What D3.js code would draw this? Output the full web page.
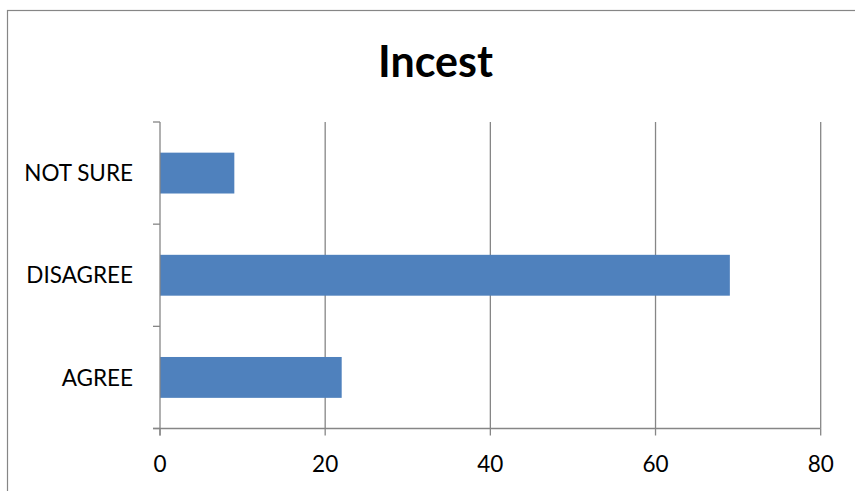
<!DOCTYPE html>
<html>
<head>
<meta charset="utf-8">
<script src="https://cdn.jsdelivr.net/npm/d3@7"></script>
<style>
  html, body { margin: 0; padding: 0; background: #fff; }
  svg { display: block; }
</style>
</head>
<body>
<svg id="chart" width="855" height="491"></svg>
<script>
const title = "Incest";
const categories = ["AGREE", "DISAGREE", "NOT SURE"];
const values = [22, 69, 9];
const xTicks = [0, 20, 40, 60, 80];

(function () {
const W = 855, H = 491;
const margin = { left: 160, right: 855 - 820.7, top: 122, bottom: 491 - 428.5 };
const svg = d3.select("#chart");
const FONT = "Lato, 'Open Sans', sans-serif";
const GRID = "#868686";

// outer frame
svg.append("rect")
  .attr("x", 7.5).attr("y", 10.5)
  .attr("width", 900).attr("height", 600)
  .attr("fill", "none").attr("stroke", GRID).attr("stroke-width", 1.2);

// title
svg.append("text")
  .attr("x", 435.5).attr("y", 77)
  .attr("text-anchor", "middle")
  .attr("font-family", FONT).attr("font-weight", "bold")
  .attr("font-size", 43).attr("fill", "#000")
  .text(title);

const x = d3.scaleLinear().domain([0, 80]).range([margin.left, W - margin.right]);
const y = d3.scaleBand().domain(categories)
  .range([H - margin.bottom, margin.top])
  .paddingInner(0.6).paddingOuter(0.3);

const plotTop = margin.top, plotBottom = H - margin.bottom;

// vertical gridlines
svg.append("g").selectAll("line").data(xTicks.filter(d => d !== 0)).join("line")
  .attr("x1", d => x(d)).attr("x2", d => x(d))
  .attr("y1", plotTop).attr("y2", plotBottom)
  .attr("stroke", GRID).attr("stroke-width", 1.3);

// bars
svg.append("g").selectAll("rect").data(categories).join("rect")
  .attr("x", x(0))
  .attr("y", d => y(d))
  .attr("width", (d, i) => x(values[i]) - x(0))
  .attr("height", y.bandwidth())
  .attr("fill", "#4F81BD");

// y axis line
svg.append("line")
  .attr("x1", x(0)).attr("x2", x(0)).attr("y1", plotTop).attr("y2", plotBottom + 7)
  .attr("stroke", GRID).attr("stroke-width", 1.3);

// y axis ticks at band boundaries
const step = y.step();
const bounds = categories.map(d => y(d) + y.bandwidth() / 2 - step / 2);
bounds.push(y(categories[0]) + y.bandwidth() / 2 + step / 2);
svg.append("g").selectAll("line").data(bounds).join("line")
  .attr("x1", x(0) - 7).attr("x2", x(0))
  .attr("y1", d => d).attr("y2", d => d)
  .attr("stroke", GRID).attr("stroke-width", 1.3);

// x axis line
svg.append("line")
  .attr("x1", x(0) - 7).attr("x2", x(80)).attr("y1", plotBottom).attr("y2", plotBottom)
  .attr("stroke", GRID).attr("stroke-width", 1.3);

// x ticks
svg.append("g").selectAll("line").data(xTicks).join("line")
  .attr("x1", d => x(d)).attr("x2", d => x(d))
  .attr("y1", plotBottom).attr("y2", plotBottom + 7)
  .attr("stroke", GRID).attr("stroke-width", 1.3);

// x tick labels
svg.append("g").selectAll("text").data(xTicks).join("text")
  .attr("x", d => x(d)).attr("y", 471.5)
  .attr("text-anchor", "middle")
  .attr("font-family", FONT).attr("font-size", 22.5).attr("fill", "#000")
  .text(d => d);

// y category labels
svg.append("g").selectAll("text").data(categories).join("text")
  .attr("x", 133).attr("y", d => y(d) + y.bandwidth() / 2 + 8.2)
  .attr("text-anchor", "end")
  .attr("font-family", FONT).attr("font-size", 22.5).attr("fill", "#000")
  .text(d => d);
})();
</script>
</body>
</html>
